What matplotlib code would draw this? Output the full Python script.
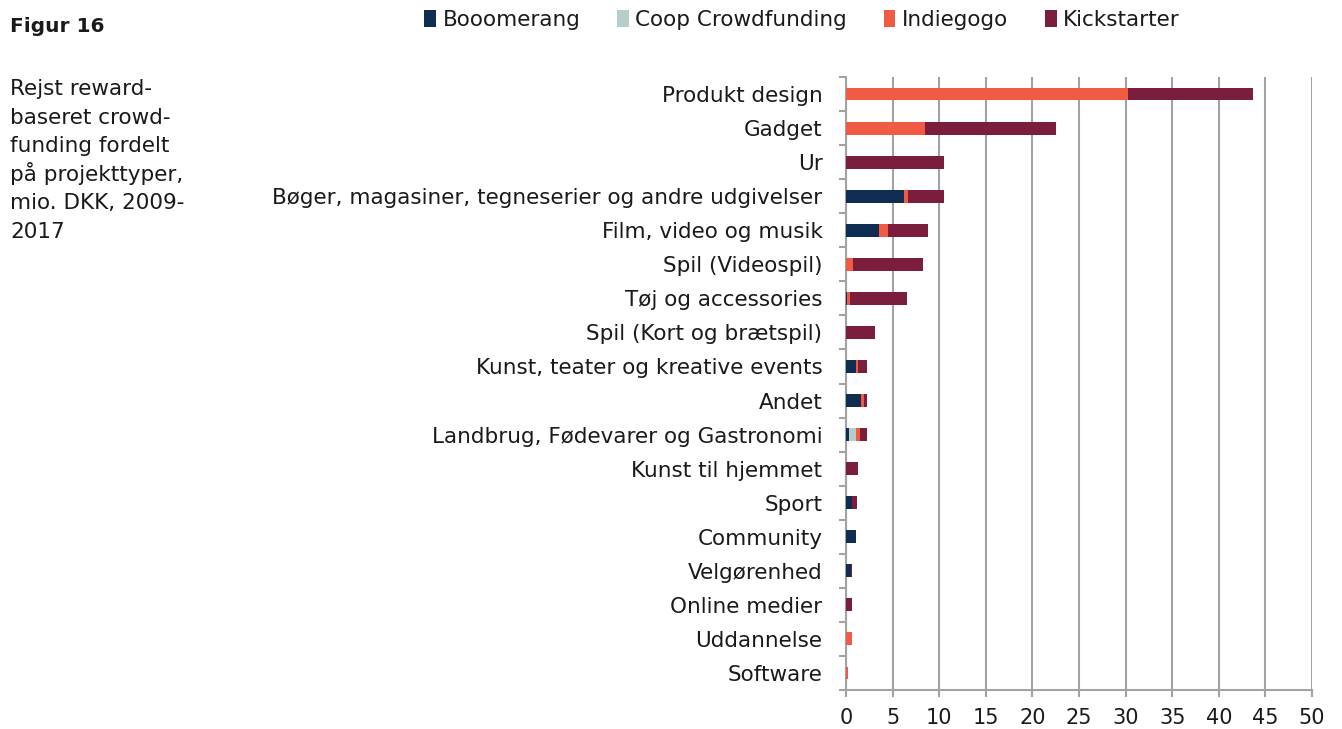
import matplotlib.pyplot as plt
import numpy as np

plt.rcParams['font.family'] = ['DejaVu Sans']

# Projekttyper (top to bottom as in the figure)
categories = ['Produkt design', 'Gadget', 'Ur',
              'Bøger, magasiner, tegneserier og andre udgivelser',
              'Film, video og musik', 'Spil (Videospil)', 'Tøj og accessories',
              'Spil (Kort og brætspil)', 'Kunst, teater og kreative events', 'Andet',
              'Landbrug, Fødevarer og Gastronomi', 'Kunst til hjemmet', 'Sport',
              'Community', 'Velgørenhed', 'Online medier', 'Uddannelse', 'Software']

booomerang = [0, 0, 0, 6.2, 3.5, 0, 0.1, 0, 1.05, 1.6, 0.3, 0, 0.68, 1.1, 0.55, 0, 0, 0]
coop = [0, 0, 0, 0, 0, 0, 0, 0, 0, 0, 0.75, 0, 0, 0, 0, 0, 0, 0]
indiegogo = [30.3, 8.5, 0, 0.5, 1.0, 0.7, 0.3, 0, 0.2, 0.3, 0.45, 0, 0, 0, 0, 0, 0.6, 0.2]
kickstarter = [13.4, 14.0, 10.5, 3.8, 4.3, 7.6, 6.1, 3.1, 1.05, 0.4, 0.7, 1.25, 0.47, 0, 0.12, 0.64, 0, 0]

series = [('Booomerang', booomerang, '#0F2D52'),
          ('Coop Crowdfunding', coop, '#B4CFCB'),
          ('Indiegogo', indiegogo, '#F15B43'),
          ('Kickstarter', kickstarter, '#7B1E3D')]

caption_lines = ['Rejst reward-', 'baseret crowd-', 'funding fordelt',
                 'på projekttyper,', 'mio. DKK, 2009-', '2017']

text_col = '#1a1a1a'
grid_col = '#A3A3A3'

fig = plt.figure(figsize=(13.42, 7.29), dpi=100)
ax = fig.add_axes([846 / 1342, 1 - 690 / 729, 466 / 1342, 613 / 729])

y = np.arange(len(categories))
left = np.zeros(len(categories))
for name, vals, col in series:
    vals = np.array(vals)
    ax.barh(y, vals, left=left, height=0.38, color=col, label=name, zorder=3)
    left += vals

ax.set_xlim(0, 50)
ax.set_ylim(len(categories) - 0.5, -0.5)
ax.set_xticks(np.arange(0, 51, 5))
ax.set_yticks(y)
ax.set_yticklabels(categories, fontsize=15.5, color=text_col)
ax.tick_params(axis='y', length=0, pad=17)
ax.set_yticks(np.arange(-0.5, len(categories), 1), minor=True)
ax.tick_params(axis='y', which='minor', length=5, color=grid_col, width=1.5)
ax.tick_params(axis='x', length=5, color=grid_col, width=1.5, labelsize=15, pad=8,
               labelcolor=text_col)
ax.grid(True, axis='x', color=grid_col, linewidth=1.5, zorder=0)
for s in ['top', 'right']:
    ax.spines[s].set_visible(False)
for s in ['left', 'bottom']:
    ax.spines[s].set_color(grid_col)
    ax.spines[s].set_linewidth(1.5)

handles, labels = ax.get_legend_handles_labels()
fig.legend(handles, labels, loc='center', ncol=4, frameon=False, fontsize=15.5,
           bbox_to_anchor=(802 / 1342, 1 - 20 / 729), handlelength=0.55,
           handleheight=0.8, handletextpad=0.3, columnspacing=1.7,
           borderpad=0, labelcolor=text_col)

fig.text(10 / 1342, 1 - 27 / 729, 'Figur 16', fontsize=14.5, fontweight='bold',
         va='center', ha='left', color=text_col)
# caption lines placed one by one for even spacing
for i, line in enumerate(caption_lines):
    fig.text(10 / 1342, 1 - (95 + i * 28.6) / 729, line, fontsize=15.5,
             va='baseline', ha='left', color=text_col)

fig.savefig('out.png', dpi=100)
